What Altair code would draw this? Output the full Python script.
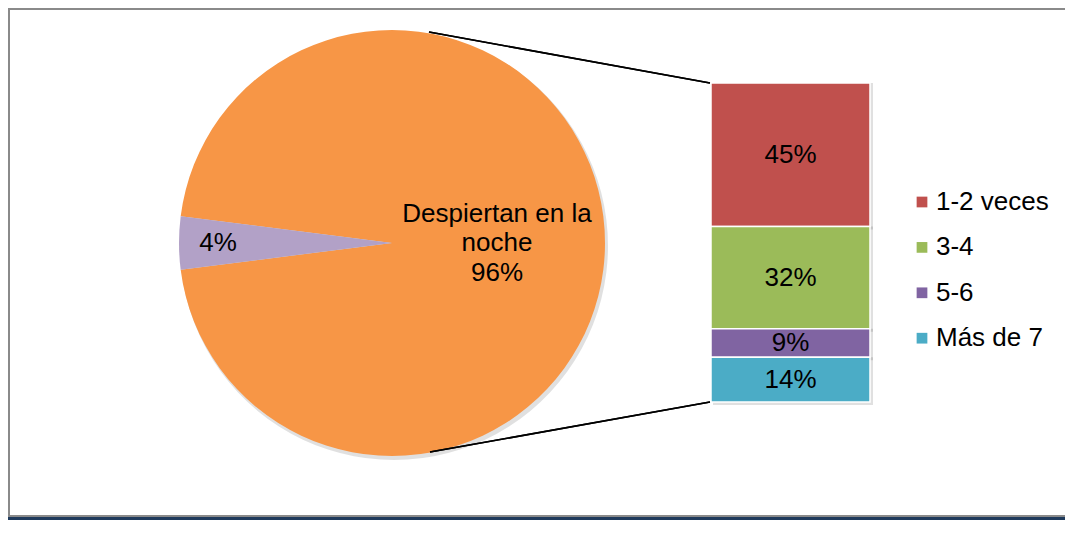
import math
import altair as alt
import pandas as pd

# ---- data ----
pie_cats = ["Despiertan en la noche", "No despiertan"]
pie_vals = [96, 4]
pie_labels = [["Despiertan en la", "noche", "96%"], ["4%"]]
pie_colors = ["#F79646", "#B2A1C7"]

bar_cats = ["1-2 veces", "3-4", "5-6", "Más de 7"]
bar_vals = [45, 32, 9, 14]
bar_colors = ["#C0504D", "#9BBB59", "#8064A2", "#4BACC6"]

FONT = "Liberation Sans"
FS = 26

pie_df = pd.DataFrame({
    "cat": pie_cats,
    "value": pie_vals,
    "ord": list(range(len(pie_cats))),
    "big": [pie_labels[0], [""]],
    "small": [[""], pie_labels[1]],
})
bar_df = pd.DataFrame({
    "cat": bar_cats,
    "value": bar_vals,
    "ord": [3, 2, 1, 0],  # stacked from the bottom
})

# rotate so the small slice is centred on the left (270 deg)
small_share = pie_vals[1] / sum(pie_vals)
start = math.radians(270 + small_share * 360 / 2)
theta = alt.Theta("value:Q", stack=True,
                  scale=alt.Scale(domain=[0, sum(pie_vals)], range=[start, start + 2 * math.pi]))
order = alt.Order("ord:Q")

CX, CY, R = 384, 235, 213

base_pie = alt.Chart(pie_df)

pie_shadow = alt.Chart(pie_df).mark_arc(color="#000000", opacity=0.12).encode(
    theta=theta, order=order,
    x=alt.value(CX + 2), y=alt.value(CY + 3), radius=alt.value(R + 1),
)

pie = base_pie.mark_arc(stroke=None).encode(
    theta=theta, order=order,
    x=alt.value(CX), y=alt.value(CY), radius=alt.value(R),
    color=alt.Color("cat:N", scale=alt.Scale(domain=pie_cats, range=pie_colors), legend=None),
)

pie_text_big = base_pie.mark_text(font=FONT, fontSize=FS, color="black", lineHeight=29.5,
                                  align="center", baseline="middle", dy=-29.5).encode(
    theta=theta, order=order,
    x=alt.value(CX), y=alt.value(CY), radius=alt.value(105),
    text="big",
)
pie_text_small = base_pie.mark_text(font=FONT, fontSize=FS, color="black",
                                    align="center", baseline="middle").encode(
    theta=theta, order=order,
    x=alt.value(CX), y=alt.value(CY), radius=alt.value(174),
    text="small",
)

# ---- bar of pie ----
BX0, BX1 = 703, 862
yscale = alt.Scale(domain=[0, sum(bar_vals)], range=[394, 75], nice=False)

bar_base = alt.Chart(bar_df).transform_stack(
    stack="value", groupby=[], as_=["y0", "y1"], sort=[alt.SortField("ord", order="ascending")]
).transform_calculate(mid="(datum.y0 + datum.y1) / 2", lbl="datum.value + '%'")

bar_shadow = bar_base.mark_rect(color="#000000", opacity=0.12).encode(
    x=alt.value(BX0 + 2), x2=alt.value(BX1 + 3),
    y=alt.Y("y0:Q", scale=yscale, axis=None), y2="y1:Q",
    yOffset=alt.value(3),
)

bars = bar_base.mark_rect(stroke="white", strokeWidth=1.5).encode(
    x=alt.value(BX0), x2=alt.value(BX1),
    y=alt.Y("y0:Q", scale=yscale, axis=None), y2="y1:Q",
    color=alt.Color("cat:N", scale=alt.Scale(domain=bar_cats, range=bar_colors),
                    sort=bar_cats,
                    legend=alt.Legend(title=None, orient="none", legendX=901, legendY=181,
                                      padding=0,
                                      symbolType="square", symbolSize=115, symbolStrokeWidth=0,
                                      labelFont=FONT, labelFontSize=FS, labelColor="black",
                                      labelOffset=1, rowPadding=19.4, labelLimit=300)),
)

bar_text = bar_base.mark_text(font=FONT, fontSize=FS, color="black",
                              align="center", baseline="middle").encode(
    x=alt.value((BX0 + BX1) / 2),
    y=alt.Y("mid:Q", scale=yscale, axis=None),
    text="lbl:N",
)

# ---- connector lines ----
conn_top = alt.Chart(pie_df).mark_rule(color="black", strokeWidth=1.6).encode(
    x=alt.value(421), y=alt.value(24), x2=alt.value(BX0 - 1), y2=alt.value(75))
conn_bot = alt.Chart(pie_df).mark_rule(color="black", strokeWidth=1.6).encode(
    x=alt.value(422), y=alt.value(444), x2=alt.value(BX0 - 1), y2=alt.value(394))

# ---- frame ----
W, H = 1057, 512
frame_top = alt.Chart(pie_df).mark_rule(color="#8a8a8a", strokeWidth=2).encode(
    x=alt.value(0), x2=alt.value(W), y=alt.value(1))
frame_left = alt.Chart(pie_df).mark_rule(color="#8a8a8a", strokeWidth=2).encode(
    x=alt.value(1), y=alt.value(0), y2=alt.value(H - 4))
frame_bot = alt.Chart(pie_df).mark_rule(color="#8a8a8a", strokeWidth=2).encode(
    x=alt.value(0), x2=alt.value(W), y=alt.value(H - 4))
frame_navy = alt.Chart(pie_df).mark_rule(color="#1f3a5c", strokeWidth=3).encode(
    x=alt.value(0), x2=alt.value(W), y=alt.value(H - 1.5))

chart = alt.layer(
    pie_shadow, pie, pie_text_big, pie_text_small,
    conn_top, conn_bot,
    bar_shadow, bars, bar_text,
    frame_top, frame_left, frame_bot, frame_navy,
).resolve_scale(color="independent").properties(
    width=W, height=H, autosize=alt.AutoSizeParams(type="none"), padding=0,
).configure_view(stroke=None)

chart.save("out.html", embed_options={"renderer": "svg", "actions": False})
